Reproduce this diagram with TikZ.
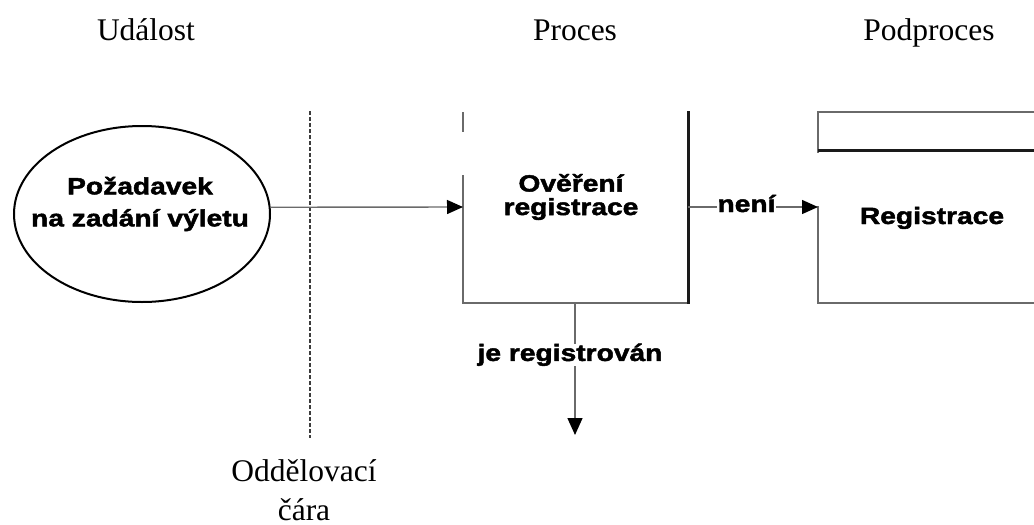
\documentclass[tikz,border=0pt]{standalone}
\usepackage{fontspec}
\setmainfont{Liberation Serif}
\newfontfamily\lblfont{Liberation Sans}[FakeStretch=1.2, FakeBold=2]
\usetikzlibrary{arrows.meta,shapes.geometric}
\definecolor{linegray}{HTML}{6A6A6A}
\definecolor{darkline}{HTML}{1A1A1A}
\begin{document}
\begin{tikzpicture}[x=1pt,y=-1pt,
  header/.style={font=\fontsize{31.5}{36}\selectfont, inner sep=0pt},
  lbl/.style={font=\lblfont\bfseries\fontsize{23.5}{23.5}\selectfont, align=center, inner sep=0pt},
  thin/.style={draw=linegray, line width=1.4pt},
  thick/.style={draw=darkline, line width=3pt},
  conn/.style={thin, -{Triangle[length=16pt,width=14pt,fill=black,color=black]}},
  evshape/.style={draw=black, line width=2pt, ellipse, minimum width=256pt, minimum height=176pt, inner sep=0pt},
  sep/.style={draw=darkline!85, line width=1.6pt, dash pattern=on 4pt off 2pt}
]
\useasboundingbox (0,0) rectangle (1034,525);

% column headers
\node[header, anchor=base] (hev) at (146,40) {Událost};
\node[header, anchor=base] (hpr) at (575,40) {Proces};
\node[header, anchor=base] (hsp) at (929,40) {Podproces};

% event
\node[evshape] (ev) at (142,214) {};
\node[lbl, font=\lblfont\bfseries\fontsize{23.5}{32}\selectfont] (evtext) at (140,204) {Požadavek\\na zadání výletu};

% separating line
\draw[sep] (310,111) -- (310,438);
\node[header, align=center, font=\fontsize{31.5}{39}\selectfont] (septext) at (304,490) {Oddělovací\\čára};

% process box
\coordinate (pin) at (463,207);
\coordinate (pout) at (688,207);
\coordinate (pbot) at (575,303);
\coordinate (pdown) at (575,435);
\draw[thin] (463,112) -- (463,132);
\draw[thin] (463,175) -- (463,303) -- (688,303);
\draw[thick] (688,111) -- (688,304);
\node[lbl] (proc) at (571,197) {Ověření\\registrace};

% subprocess box
\coordinate (sin) at (818,207);
\draw[thin] (1040,112) -- (818,112) -- (818,153);
\draw[thin] (818,206) -- (818,303) -- (1040,303);
\draw[thick] (818,150) -- (1040,150);
\node[lbl, anchor=base] (sub) at (932,224) {Registrace};

% connectors
\draw[conn] (ev.3) -- (pin);
\draw[conn] (pout) -- (sin)
  node[lbl, pos=0.45, anchor=base, yshift=-5pt, fill=white, inner xsep=1pt] {není};
\draw[conn, -{Triangle[length=17pt,width=15pt,fill=black,color=black]}] (pbot) -- (pdown)
  node[lbl, pos=0.439, anchor=base, xshift=-5pt, fill=white] {je registrován};
\end{tikzpicture}
\end{document}
